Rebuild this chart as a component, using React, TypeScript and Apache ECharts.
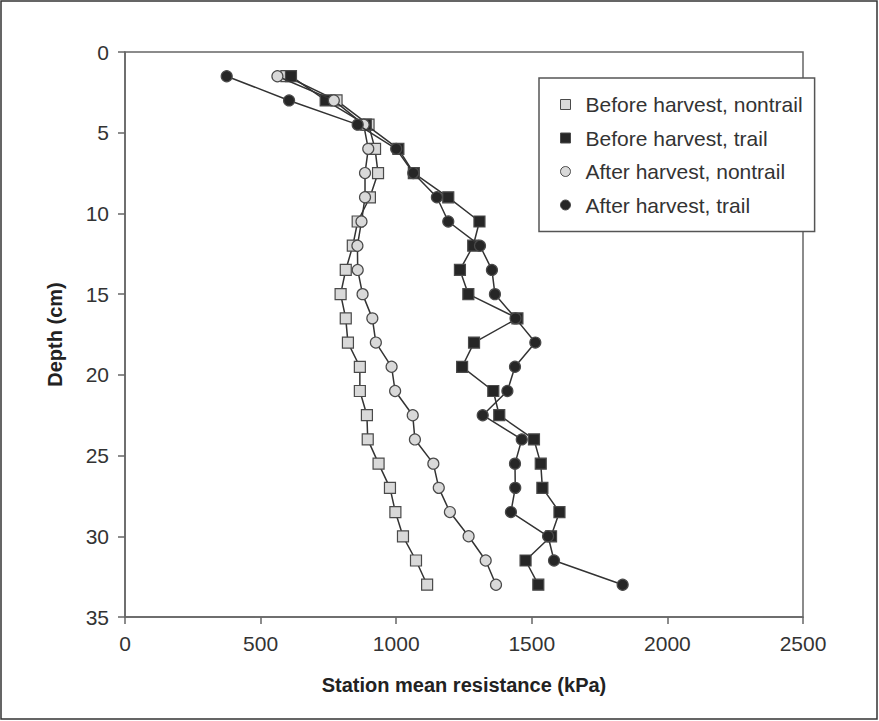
import React, { useEffect, useRef } from "react";
import * as echarts from "echarts";

const depths = [1.5, 3, 4.5, 6, 7.5, 9, 10.5, 12, 13.5, 15, 16.5, 18, 19.5, 21, 22.5, 24, 25.5, 27, 28.5, 30, 31.5, 33];
const beforeNontrail = [595, 780, 898, 922, 933, 903, 858, 840, 814, 795, 814, 822, 866, 866, 892, 895, 935, 977, 997, 1025, 1073, 1114];
const beforeTrail = [612, 740, 888, 1008, 1065, 1192, 1307, 1284, 1235, 1266, 1447, 1287, 1243, 1358, 1380, 1508, 1533, 1539, 1602, 1571, 1477, 1524];
const afterNontrail = [562, 770, 880, 897, 885, 885, 872, 857, 858, 876, 912, 925, 983, 996, 1061, 1069, 1137, 1157, 1198, 1267, 1330, 1368];
const afterTrail = [375, 605, 858, 1000, 1063, 1150, 1192, 1309, 1353, 1364, 1440, 1513, 1438, 1410, 1319, 1463, 1438, 1439, 1423, 1560, 1582, 1835];

const seriesNames = [
  "Before harvest, nontrail",
  "Before harvest, trail",
  "After harvest, nontrail",
  "After harvest, trail",
];

const LIGHT = "#d9d9d9";
const DARK = "#262626";
const EDGE = "#4a4a4a";
const FONT = "'Liberation Sans', Arial, sans-serif";

export default function App() {
  const ref = useRef<HTMLDivElement>(null);
  useEffect(() => {
    document.body.style.margin = "0";
    if (!ref.current) return;
    const chart = echarts.init(ref.current, undefined, { renderer: "svg" });
    const defs = [
      { name: seriesNames[0], vals: beforeNontrail, symbol: "rect", fill: LIGHT },
      { name: seriesNames[1], vals: beforeTrail, symbol: "rect", fill: DARK },
      { name: seriesNames[2], vals: afterNontrail, symbol: "circle", fill: LIGHT },
      { name: seriesNames[3], vals: afterTrail, symbol: "circle", fill: DARK },
    ];
    chart.setOption({
      animation: false,
      backgroundColor: "#ffffff",
      grid: {
        left: 125,
        top: 52,
        width: 678,
        height: 565,
        show: true,
        borderColor: "#666",
        borderWidth: 1.5,
        backgroundColor: "transparent",
      },
      xAxis: {
        type: "value",
        min: 0,
        max: 2500,
        interval: 500,
        name: "Station mean resistance (kPa)",
        nameLocation: "middle",
        nameGap: 58,
        nameTextStyle: { fontFamily: FONT, fontSize: 20, fontWeight: "bold", color: "#222" },
        axisLine: { show: true, onZero: false, lineStyle: { color: "#666", width: 1.5 } },
        axisTick: { show: true, inside: false, length: 7, lineStyle: { color: "#666", width: 1.5 } },
        axisLabel: { fontFamily: FONT, fontSize: 21, color: "#333", margin: 16, formatter: (v: number) => String(v) },
        splitLine: { show: false },
      },
      yAxis: {
        type: "value",
        inverse: true,
        min: 0,
        max: 35,
        interval: 5,
        name: "Depth (cm)",
        nameLocation: "middle",
        nameRotate: 90,
        nameGap: 60,
        nameTextStyle: { fontFamily: FONT, fontSize: 20, fontWeight: "bold", color: "#222" },
        axisLine: { show: true, onZero: false, lineStyle: { color: "#666", width: 1.5 } },
        axisTick: { show: true, inside: false, length: 7, lineStyle: { color: "#666", width: 1.5 } },
        axisLabel: { fontFamily: FONT, fontSize: 21, color: "#333", margin: 16, formatter: (v: number) => String(v) },
        splitLine: { show: false },
      },
      legend: {
        orient: "vertical",
        left: 539,
        top: 78,
        padding: [16, 12, 16, 21],
        itemWidth: 10,
        itemHeight: 10,
        itemGap: 12.5,
        borderColor: "#555",
        borderWidth: 1.5,
        backgroundColor: "#fff",
        textStyle: { fontFamily: FONT, fontSize: 21, color: "#333", lineHeight: 21, padding: [0, 0, 0, 10] },
        data: defs.map((d) => ({
          name: d.name,
          icon: d.symbol,
          itemStyle: { color: d.fill, borderColor: EDGE, borderWidth: 1 },
        })),
      },
      graphic: [
        {
          type: "rect",
          shape: { x: 1, y: 1, width: 876, height: 718 },
          style: { fill: "none", stroke: "#333", lineWidth: 1.5 },
          silent: true,
        },
      ],
      series: defs.map((d, i) => ({
        type: "line",
        name: d.name,
        data: d.vals.map((v, k) => [v, depths[k]]),
        symbol: d.symbol,
        symbolSize: 11,
        showAllSymbol: true,
        z: 2 + i,
        lineStyle: { color: "#333", width: 1.5 },
        itemStyle: { color: d.fill, borderColor: EDGE, borderWidth: 1.2 },
        emphasis: { disabled: true },
      })),
    });
    return () => chart.dispose();
  }, []);
  return <div ref={ref} style={{ width: 879, height: 721 }} />;
}
